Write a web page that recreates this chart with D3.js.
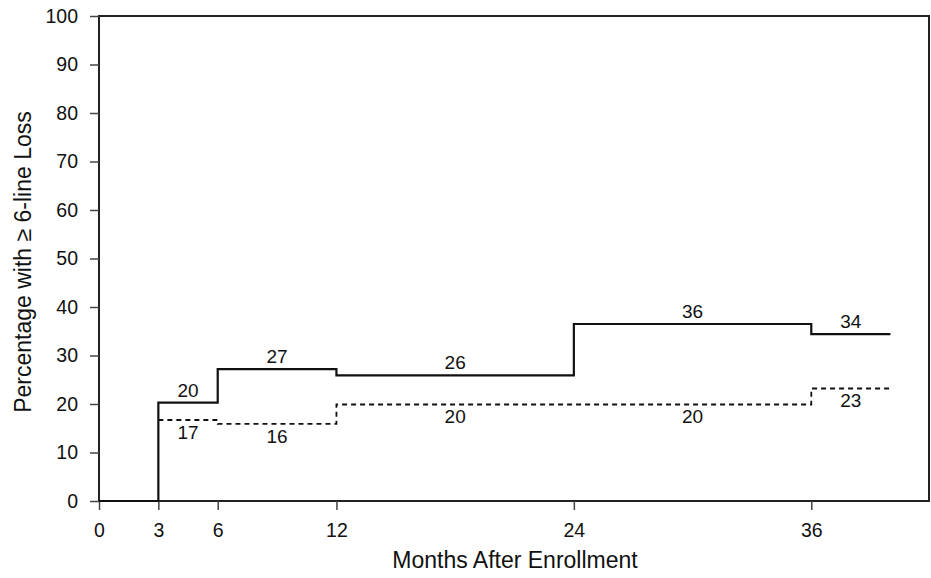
<!DOCTYPE html>
<html><head><meta charset="utf-8">
<script src="https://cdn.jsdelivr.net/npm/d3@7"></script>
<style>body{margin:0;background:#fff}svg{display:block}text{font-family:"Liberation Sans",Arial,sans-serif;fill:#111}</style>
</head><body><svg id="c" width="931" height="578"></svg>
<script>
const xTicks = [0, 3, 6, 12, 24, 36];
const yTicks = [0, 10, 20, 30, 40, 50, 60, 70, 80, 90, 100];
const intervalStarts = [3, 6, 12, 24, 36];
const intervalEnds   = [6, 12, 24, 36, 40];
const solidValues  = [20.3, 27.2, 25.9, 36.5, 34.4];
const solidLabels  = ["20", "27", "26", "36", "34"];
const dashedStarts = [3, 6, 12, 36];
const dashedEnds   = [6, 12, 36, 40];
const dashedValues = [16.7, 15.9, 19.9, 23.2];
const dashedLabelX = [4.5, 9, 18, 30, 38];
const dashedLabels = ["17", "16", "20", "20", "23"];
const dashedLabelV = [16.7, 15.9, 19.9, 19.9, 23.2];

const svg = d3.select("#c");
const x = d3.scaleLinear().domain([0, 42]).range([99, 930]);
const y = d3.scaleLinear().domain([0, 100]).range([501, 16]);

// frame
svg.append("rect").attr("x", x(0)).attr("y", y(100)).attr("width", x(42) - x(0) - 1).attr("height", y(0) - y(100))
  .attr("fill", "none").attr("stroke", "#222").attr("stroke-width", 2);

const xa = svg.append("g").attr("transform", `translate(0,${y(0)})`)
  .call(d3.axisBottom(x).tickValues(xTicks).tickSize(9).tickPadding(13).tickFormat(d3.format("d")));
const ya = svg.append("g").attr("transform", `translate(${x(0)},0)`)
  .call(d3.axisLeft(y).tickValues(yTicks).tickSize(9).tickPadding(12).tickFormat(d3.format("d")));
[xa, ya].forEach(a => {
  a.select(".domain").remove();
  a.selectAll(".tick line").attr("stroke", "#444").attr("stroke-width", 1.5);
  a.selectAll("text").attr("font-size", 19.5).attr("fill", "#111");
});

// solid step line
const solidPts = [[0, 0], [3, 0]];
intervalStarts.forEach((s, i) => { solidPts.push([s, solidValues[i]]); solidPts.push([intervalEnds[i], solidValues[i]]); });
const line = d3.line().x(d => x(d[0])).y(d => y(d[1]));
svg.append("path").attr("d", line(solidPts)).attr("fill", "none").attr("stroke", "#111").attr("stroke-width", 2.2);

const dashedPts = [];
dashedStarts.forEach((s, i) => { dashedPts.push([s, dashedValues[i]]); dashedPts.push([dashedEnds[i], dashedValues[i]]); });
svg.append("path").attr("d", line(dashedPts)).attr("fill", "none").attr("stroke", "#111")
  .attr("stroke-width", 1.8).attr("stroke-dasharray", "5,4");

// labels
intervalStarts.forEach((s, i) => {
  svg.append("text").attr("x", x((s + intervalEnds[i]) / 2)).attr("y", y(solidValues[i]) - 6)
    .attr("text-anchor", "middle").attr("font-size", 19).text(solidLabels[i]);
});
dashedLabelX.forEach((m, i) => {
  svg.append("text").attr("x", x(m)).attr("y", y(dashedLabelV[i]) + 19)
    .attr("text-anchor", "middle").attr("font-size", 19).text(dashedLabels[i]);
});

svg.append("text").attr("x", 515).attr("y", 568).attr("text-anchor", "middle").attr("font-size", 23).text("Months After Enrollment");
svg.append("text").attr("transform", "translate(31,262) rotate(-90)").attr("text-anchor", "middle").attr("font-size", 23)
  .text("Percentage with \u2265 6-line Loss");
</script></body></html>
